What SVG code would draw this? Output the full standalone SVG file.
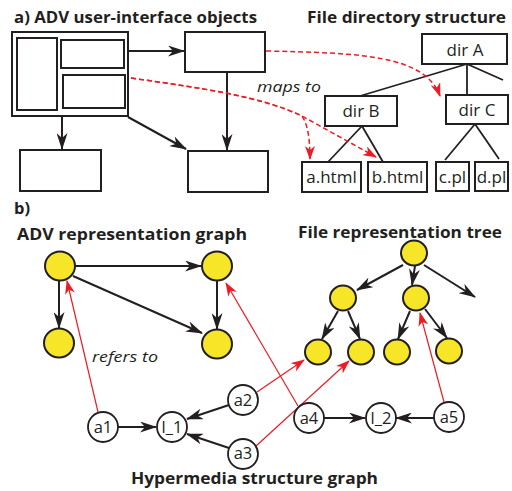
<svg xmlns="http://www.w3.org/2000/svg" width="512" height="491" viewBox="0 0 512 491">
  <style>
    .box { fill: #fff; stroke: #231f20; stroke-width: 2; }
    .edge { fill: none; stroke: #231f20; stroke-width: 2; }
    .tree { fill: none; stroke: #231f20; stroke-width: 1.8; }
    .map { fill: none; stroke: #ed1c24; stroke-width: 1.5; stroke-dasharray: 5 3; }
    .ref { fill: none; stroke: #ed1c24; stroke-width: 1.2; }
    .yel { fill: #f7e628; stroke: #231f20; stroke-width: 2; }
    .hyp { fill: #fff; stroke: #231f20; stroke-width: 1.8; }
    .title { font-family: "Open Sans", "DejaVu Sans", sans-serif; font-weight: bold; font-size: 16.5px; fill: #231f20; }
    .lbl { font-family: "Open Sans", "DejaVu Sans", sans-serif; font-size: 17px; fill: #231f20; text-anchor: middle; }
    .nl { font-family: "Open Sans", "DejaVu Sans", sans-serif; font-size: 16.5px; fill: #231f20; text-anchor: middle; }
    .note { font-family: "Open Sans", "DejaVu Sans", sans-serif; font-style: italic; font-size: 15px; fill: #231f20; }
  </style>
  <defs>
    <marker id="ah" viewBox="0 0 17 11" refX="16" refY="5.5" markerWidth="17" markerHeight="11" markerUnits="userSpaceOnUse" orient="auto">
      <path d="M0,0 L17,5.5 L0,11 L5,5.5 z" fill="#231f20"/>
    </marker>
    <marker id="ahr" viewBox="0 0 14 10" refX="13" refY="5" markerWidth="14" markerHeight="10" markerUnits="userSpaceOnUse" orient="auto">
      <path d="M0,0 L14,5 L0,10 L4,5 z" fill="#ed1c24"/>
    </marker>
  </defs>

  <!-- Section headings -->
  <text class="title" x="14" y="23" textLength="243" lengthAdjust="spacingAndGlyphs">a) ADV user-interface objects</text>
  <text class="title" x="307" y="23" textLength="199" lengthAdjust="spacingAndGlyphs">File directory structure</text>
  <text class="title" x="14" y="214">b)</text>
  <text class="title" x="17" y="240" textLength="230" lengthAdjust="spacingAndGlyphs">ADV representation graph</text>
  <text class="title" x="298" y="238" textLength="204" lengthAdjust="spacingAndGlyphs">File representation tree</text>
  <text class="title" x="131" y="484" textLength="247" lengthAdjust="spacingAndGlyphs">Hypermedia structure graph</text>

  <!-- Connectors -->
  <g id="connectors">
    <!-- UI object containment / navigation -->
    <line class="edge" x1="129" y1="51" x2="184" y2="51" marker-end="url(#ah)"/>
    <line class="edge" x1="62" y1="117" x2="62" y2="149" marker-end="url(#ah)"/>
    <line class="edge" x1="128" y1="117" x2="186" y2="149" marker-end="url(#ah)"/>
    <line class="edge" x1="227" y1="72" x2="227" y2="150" marker-end="url(#ah)"/>

    <!-- directory tree -->
    <line class="tree" x1="467" y1="64" x2="360" y2="96"/>
    <line class="tree" x1="467" y1="64" x2="467" y2="95"/>
    <line class="tree" x1="467" y1="64" x2="503" y2="80"/>
    <line class="tree" x1="362" y1="126" x2="328" y2="162"/>
    <line class="tree" x1="362" y1="126" x2="383" y2="162"/>
    <line class="tree" x1="475" y1="124" x2="445" y2="160"/>
    <line class="tree" x1="475" y1="124" x2="499" y2="159"/>

    <!-- maps to -->
    <path class="map" d="M266,51 C360,53 425,55 440,96" marker-end="url(#ahr)"/>
    <path class="map" d="M131,78 C200,88 260,96 302,116 C308,125 310,140 310,159" marker-end="url(#ahr)"/>
    <path class="map" d="M131,78 C200,88 260,96 302,116 L376,157" marker-end="url(#ahr)"/>

    <!-- ADV representation graph -->
    <line class="edge" x1="75" y1="266" x2="201" y2="266" marker-end="url(#ah)"/>
    <line class="edge" x1="59" y1="280" x2="59" y2="328" marker-end="url(#ah)"/>
    <line class="edge" x1="217" y1="280" x2="217" y2="329" marker-end="url(#ah)"/>
    <line class="edge" x1="73" y1="276" x2="202" y2="333" marker-end="url(#ah)"/>

    <!-- file representation tree -->
    <line class="edge" x1="403" y1="265" x2="357" y2="290" marker-end="url(#ah)"/>
    <line class="edge" x1="415" y1="266" x2="412" y2="285" marker-end="url(#ah)"/>
    <line class="edge" x1="424" y1="265" x2="475" y2="297" marker-end="url(#ah)"/>
    <line class="edge" x1="338" y1="311" x2="322" y2="339" marker-end="url(#ah)"/>
    <line class="edge" x1="348" y1="311" x2="360" y2="339" marker-end="url(#ah)"/>
    <line class="edge" x1="410" y1="311" x2="398" y2="339" marker-end="url(#ah)"/>
    <line class="edge" x1="425" y1="309" x2="447" y2="338" marker-end="url(#ah)"/>

    <!-- hypermedia structure graph -->
    <line class="edge" x1="118" y1="427" x2="156" y2="427" marker-end="url(#ah)"/>
    <line class="edge" x1="229" y1="405" x2="187" y2="419" marker-end="url(#ah)"/>
    <line class="edge" x1="229" y1="448" x2="187" y2="434" marker-end="url(#ah)"/>
    <line class="edge" x1="324" y1="418" x2="365" y2="418" marker-end="url(#ah)"/>
    <line class="edge" x1="434" y1="418" x2="396" y2="418" marker-end="url(#ah)"/>

    <!-- refers to -->
    <line class="ref" x1="98" y1="412" x2="67" y2="281" marker-end="url(#ahr)"/>
    <line class="ref" x1="257" y1="392" x2="304" y2="360" marker-end="url(#ahr)"/>
    <line class="ref" x1="256" y1="446" x2="349" y2="361" marker-end="url(#ahr)"/>
    <line class="ref" x1="298" y1="406" x2="226" y2="283" marker-end="url(#ahr)"/>
    <line class="ref" x1="444" y1="402" x2="420" y2="313" marker-end="url(#ahr)"/>
  </g>

  <!-- Connector notes -->
  <text class="note" x="257" y="92" textLength="64" lengthAdjust="spacingAndGlyphs">maps to</text>
  <text class="note" x="92" y="362" textLength="66" lengthAdjust="spacingAndGlyphs">refers to</text>

  <!-- ADV user-interface objects -->
  <g id="ui-window">
    <rect class="box" x="12" y="32" width="116" height="84"/>
    <rect class="box" x="17" y="38" width="40" height="72"/>
    <rect class="box" x="61" y="40" width="63" height="28"/>
    <rect class="box" x="63" y="75" width="62" height="33"/>
  </g>
  <g id="ui-panel"><rect class="box" x="185" y="32" width="80" height="40"/></g>
  <g id="ui-dialog-left"><rect class="box" x="20" y="150" width="81" height="41"/></g>
  <g id="ui-dialog-right"><rect class="box" x="188" y="151" width="80" height="41"/></g>

  <!-- File directory structure -->
  <g id="dir-a"><rect class="box" x="422" y="34" width="85" height="30"/><text class="lbl" x="465" y="56">dir A</text></g>
  <g id="dir-b"><rect class="box" x="325" y="96" width="72" height="30"/><text class="lbl" x="361" y="117">dir B</text></g>
  <g id="dir-c"><rect class="box" x="446" y="95" width="62" height="29"/><text class="lbl" x="477" y="116">dir C</text></g>
  <g id="file-a"><rect class="box" x="302" y="162" width="59" height="30"/><text class="lbl" x="331.5" y="183">a.html</text></g>
  <g id="file-b"><rect class="box" x="368" y="162" width="59" height="30"/><text class="lbl" x="397.5" y="183">b.html</text></g>
  <g id="file-c"><rect class="box" x="436" y="162" width="33" height="29"/><text class="lbl" x="452.5" y="183">c.pl</text></g>
  <g id="file-d"><rect class="box" x="475" y="162" width="33" height="29"/><text class="lbl" x="491.5" y="183">d.pl</text></g>

  <!-- ADV representation graph -->
  <g id="adv-1"><ellipse class="yel" cx="60" cy="266" rx="15" ry="14.5"/></g>
  <g id="adv-2"><ellipse class="yel" cx="217" cy="266" rx="15" ry="14.5"/></g>
  <g id="adv-3"><ellipse class="yel" cx="59" cy="343" rx="15" ry="14.5"/></g>
  <g id="adv-4"><ellipse class="yel" cx="217" cy="344" rx="15" ry="14.5"/></g>

  <!-- File representation tree -->
  <g id="tree-root"><ellipse class="yel" cx="414" cy="253" rx="13" ry="12.5"/></g>
  <g id="tree-b"><ellipse class="yel" cx="343" cy="298" rx="13" ry="12.5"/></g>
  <g id="tree-c"><ellipse class="yel" cx="416" cy="298" rx="13" ry="12.5"/></g>
  <g id="tree-a-html"><ellipse class="yel" cx="318" cy="352" rx="13" ry="12.5"/></g>
  <g id="tree-b-html"><ellipse class="yel" cx="361" cy="352" rx="13" ry="12.5"/></g>
  <g id="tree-c-pl"><ellipse class="yel" cx="397" cy="352" rx="13" ry="12.5"/></g>
  <g id="tree-d-pl"><ellipse class="yel" cx="449" cy="351" rx="13" ry="12.5"/></g>

  <!-- Hypermedia structure graph -->
  <g id="a1"><circle class="hyp" cx="103" cy="427" r="15"/><text class="nl" x="103" y="433">a1</text></g>
  <g id="l1"><circle class="hyp" cx="172" cy="427" r="15"/><text class="nl" x="172" y="433">l_1</text></g>
  <g id="a2"><circle class="hyp" cx="243" cy="400" r="15"/><text class="nl" x="243" y="406">a2</text></g>
  <g id="a3"><circle class="hyp" cx="243" cy="454" r="15"/><text class="nl" x="243" y="459">a3</text></g>
  <g id="a4"><circle class="hyp" cx="309" cy="418" r="15"/><text class="nl" x="309" y="424">a4</text></g>
  <g id="l2"><circle class="hyp" cx="381" cy="418" r="15"/><text class="nl" x="381" y="424">l_2</text></g>
  <g id="a5"><circle class="hyp" cx="449" cy="417" r="15"/><text class="nl" x="449" y="423">a5</text></g>
</svg>
